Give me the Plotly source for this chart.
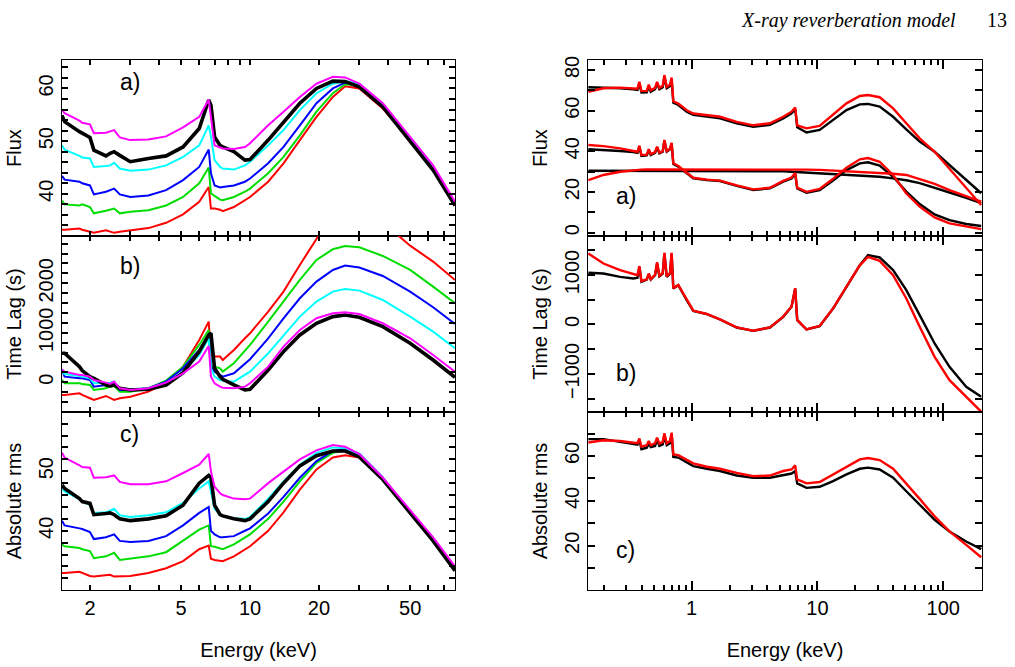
import math
import plotly.graph_objects as go

# ---------------- Left column (energy grid, keV) ----------------
E_LEFT = [1.51, 1.55, 1.8, 1.85, 2.0, 2.08, 2.35, 2.45, 2.55, 2.7, 3.0, 3.6, 4.3, 5.1, 6.0, 6.6,
          6.75, 7.0, 7.4, 7.6, 8.5, 9.5, 10, 12, 14, 16.5, 19.5, 23, 26, 30, 38, 50, 63, 78.5]

# a) Flux
flux_red = [33.2, 33.2, 33.4, 33.2, 32.8, 32.6, 33.1, 32.9, 32.6, 32.8, 33.1, 33.5, 34.5, 36.1, 38.5, 41.3,
            37.2, 37.2, 37.0, 36.7, 37.5, 38.8, 39.4, 42.3, 45.8, 50.2, 54.6, 58.4, 60.4, 60.0, 56.2, 50.2, 44.8, 37.8]
flux_green = [38.7, 38.0, 37.8, 38.0, 37.5, 36.3, 36.8, 37.0, 37.2, 36.3, 36.6, 36.9, 37.8, 39.4, 42.0, 45.0,
              40.1, 39.6, 38.9, 38.8, 39.4, 40.4, 41.0, 43.9, 47.0, 51.1, 55.6, 59.1, 60.8, 60.6, 56.8, 50.3, 44.8, 38.0]
flux_blue = [43.4, 42.7, 42.3, 42.0, 41.6, 39.9, 40.4, 40.7, 41.0, 39.9, 39.4, 39.7, 40.7, 42.6, 45.1, 48.4,
             43.9, 41.6, 41.2, 41.3, 41.6, 42.3, 42.9, 45.8, 48.9, 53.0, 57.2, 60.0, 61.1, 60.8, 57.0, 50.3, 44.8, 38.0]
flux_cyan = [49.2, 48.4, 47.2, 46.9, 46.7, 45.1, 45.3, 45.4, 45.9, 44.8, 44.4, 44.6, 45.4, 47.0, 49.2, 53.0,
             50.8, 46.4, 45.1, 44.8, 44.6, 45.4, 46.1, 49.2, 52.1, 55.9, 59.1, 60.9, 61.4, 60.8, 57.0, 50.3, 44.8, 38.2]
flux_magenta = [56.0, 55.3, 53.9, 53.5, 53.2, 51.5, 51.6, 51.8, 52.1, 50.7, 50.2, 50.3, 50.9, 52.6, 54.6, 57.9,
                54.6, 49.2, 48.8, 48.6, 48.5, 48.9, 49.6, 53.0, 55.6, 58.4, 60.9, 62.2, 62.1, 60.9, 57.2, 50.8, 45.4, 38.5]
flux_black = [54.9, 53.7, 51.8, 51.5, 50.7, 48.3, 47.2, 47.7, 48.0, 47.3, 46.1, 46.7, 47.2, 48.9, 52.4, 57.8,
              56.8, 50.8, 49.2, 48.9, 48.0, 46.4, 46.5, 50.2, 53.7, 57.2, 60.0, 61.4, 61.3, 60.3, 56.5, 49.9, 44.5, 37.8]

# b) Time lag (s)
lag_red = [-256, -256, -222, -256, -323, -357, -276, -323, -357, -323, -290, -189, -20, 316, 855, 1226,
           552, 519, 519, 451, 653, 889, 990, 1428, 1832, 2370, 2909, 3414, 3582, 3548, 3230, 2760, 2438, 2067]
lag_green = [47, -20, -20, -34, -54, -155, -121, -88, -74, -189, -189, -121, 34, 316, 754, 1057,
             350, 316, 283, 215, 384, 653, 754, 1226, 1630, 2067, 2471, 2687, 2754, 2727, 2552, 2269, 1933, 1596]
lag_blue = [249, 114, 81, 81, 47, -88, -54, -40, -20, -155, -155, -121, 13, 283, 653, 956,
            316, 215, 148, 114, 182, 384, 465, 889, 1293, 1697, 2034, 2269, 2357, 2317, 2148, 1832, 1515, 1178]
lag_cyan = [215, 168, 128, 114, 81, -20, -20, -7, 13, -121, -141, -121, -20, 215, 552, 889,
            283, 114, 47, 34, 13, 148, 215, 586, 956, 1327, 1630, 1832, 1886, 1852, 1663, 1327, 1024, 687]
lag_magenta = [263, 215, 148, 148, 114, 47, -7, -34, 13, -121, -155, -121, -7, 182, 418, 734,
               114, -20, -88, -108, -121, -88, -20, 316, 721, 1057, 1293, 1394, 1414, 1380, 1192, 889, 552, 215]
lag_black = [586, 586, 316, 236, 114, 81, -54, -74, -54, -121, -155, -141, -54, 195, 620, 956,
             990, 283, 114, 61, -54, -155, -141, 249, 620, 956, 1192, 1327, 1360, 1313, 1125, 788, 451, 101]

# c) Absolute rms
rms_red = [32.9, 32.9, 33.1, 32.9, 32.4, 32.3, 32.6, 32.6, 32.3, 32.3, 32.4, 32.9, 33.7, 34.9, 36.9, 37.5,
           35.3, 35.1, 35.0, 34.9, 35.7, 36.9, 37.4, 40.0, 43.1, 46.9, 50.3, 52.3, 52.7, 52.3, 48.6, 42.9, 38.3, 33.4]
rms_green = [37.7, 37.4, 37.1, 36.9, 36.6, 35.4, 35.7, 36.0, 36.3, 35.1, 35.3, 35.7, 36.4, 38.3, 40.2, 40.9,
             37.4, 37.3, 37.0, 36.9, 37.7, 38.9, 39.4, 42.0, 44.9, 48.3, 51.4, 53.1, 53.5, 52.9, 48.9, 43.0, 38.4, 33.5]
rms_blue = [41.7, 40.9, 40.4, 40.3, 39.8, 38.6, 38.9, 39.1, 39.4, 38.3, 38.1, 38.3, 39.1, 40.9, 43.0, 44.0,
            40.0, 39.4, 38.9, 38.9, 39.1, 40.0, 40.4, 42.9, 45.7, 48.9, 51.7, 53.4, 53.8, 52.9, 48.9, 43.0, 38.4, 33.7]
rms_cyan = [47.1, 46.6, 45.3, 45.0, 44.3, 43.0, 43.1, 43.4, 43.7, 42.6, 42.3, 42.6, 43.1, 44.7, 47.1, 48.3,
            46.6, 43.7, 42.7, 42.5, 42.1, 42.0, 42.3, 45.4, 48.3, 51.1, 53.1, 54.0, 53.9, 52.9, 48.9, 43.0, 38.4, 33.7]
rms_magenta = [53.1, 52.3, 51.0, 50.7, 50.6, 48.9, 49.0, 49.1, 49.3, 48.2, 47.8, 47.8, 48.3, 49.7, 51.1, 52.9,
               50.0, 47.4, 46.3, 46.0, 45.4, 45.3, 45.4, 48.0, 50.0, 52.0, 53.5, 54.4, 54.1, 52.9, 48.9, 43.4, 38.9, 34.0]
rms_black = [47.7, 47.1, 45.4, 44.9, 44.6, 42.7, 42.9, 43.0, 42.7, 42.0, 41.7, 42.0, 42.5, 44.3, 48.0, 49.3,
             48.9, 44.3, 42.7, 42.5, 42.0, 41.7, 42.0, 44.9, 48.0, 50.9, 52.6, 53.4, 53.4, 52.4, 48.6, 42.9, 38.3, 33.3]

# ---------------- Right column (energy grid, keV) ----------------
E_RIGHT = [0.151, 0.199, 0.270, 0.344, 0.371, 0.384, 0.399, 0.440, 0.456, 0.473, 0.512, 0.531, 0.554, 0.589,
           0.607, 0.634, 0.673, 0.693, 0.715, 0.783, 0.913, 1.03, 1.32, 1.68, 2.28, 3.09, 4.19, 5.34, 6.22,
           6.65, 6.90, 8.18, 10.4, 13.3, 17.0, 21.7, 25.2, 31.2, 39.9, 50.8, 64.9, 85.3, 112, 152, 200]

# a) Flux: total, reflected and continuum, for the two models (black, red)
total_black = [71.5, 71.3, 71.0, 70.5, 70.2, 73.4, 68.9, 69.0, 72.1, 69.3, 70.5, 73.4, 70.5, 71.5, 76.7, 71.0,
               72.1, 75.4, 63.9, 62.8, 59.5, 57.9, 57.0, 56.2, 53.8, 52.1, 53.0, 56.2, 58.7, 60.7, 51.8, 49.3,
               50.5, 55.4, 60.3, 63.1, 63.3, 62.0, 57.0, 50.8, 44.8, 39.8, 33.3, 25.6, 19.4]
total_red = [69.3, 71.0, 71.3, 70.8, 70.8, 74.2, 69.6, 69.7, 72.8, 70.0, 71.2, 74.1, 71.2, 72.2, 77.5, 71.7,
             72.8, 76.3, 64.6, 63.5, 60.2, 58.6, 57.7, 57.0, 54.5, 52.8, 53.8, 57.0, 59.5, 61.6, 52.8, 51.3,
             52.5, 57.9, 63.6, 67.2, 67.7, 66.6, 61.1, 53.8, 46.4, 39.8, 31.6, 22.3, 13.6]
refl_black = [41.0, 40.7, 40.2, 39.7, 39.3, 42.3, 37.7, 38.0, 40.7, 38.2, 39.3, 42.0, 39.0, 39.8, 45.2, 39.8,
              41.0, 43.9, 33.8, 32.5, 29.5, 26.7, 25.9, 25.4, 23.0, 21.0, 21.8, 25.1, 26.7, 28.9, 21.8, 19.7,
              21.0, 25.6, 30.8, 34.1, 34.6, 33.0, 27.5, 20.2, 14.1, 9.0, 6.2, 4.3, 3.3]
refl_red = [43.1, 42.6, 41.5, 40.3, 39.8, 42.8, 38.2, 38.4, 41.1, 38.6, 39.6, 42.3, 39.3, 40.1, 45.6, 40.1,
            41.3, 44.2, 34.1, 32.8, 29.8, 27.0, 26.1, 25.6, 23.3, 21.3, 22.1, 25.5, 27.1, 29.4, 22.2, 20.1,
            21.5, 26.5, 32.0, 36.1, 36.7, 34.9, 28.4, 19.3, 12.8, 7.5, 4.6, 3.0, 1.8]
cont_black = [30.5, 30.5, 30.5, 30.5, 30.5, 30.5, 30.5, 30.5, 30.5, 30.5, 30.5, 30.5, 30.5, 30.5, 30.5, 30.5,
              30.5, 30.5, 30.5, 30.5, 30.5, 30.5, 30.5, 30.5, 30.4, 30.4, 30.3, 30.2, 30.0, 29.9, 29.9, 29.7,
              29.3, 29.0, 28.7, 28.3, 28.0, 27.5, 26.7, 25.8, 24.4, 22.2, 19.8, 17.2, 14.5]
cont_red = [25.9, 28.4, 30.0, 30.8, 30.9, 30.9, 31.0, 31.1, 31.1, 31.1, 31.2, 31.2, 31.2, 31.2, 31.2, 31.3,
            31.3, 31.3, 31.3, 31.3, 31.3, 31.3, 31.3, 31.3, 31.3, 31.3, 31.3, 31.2, 31.2, 31.1, 31.1, 31.0,
            30.9, 30.6, 30.3, 30.0, 29.7, 29.3, 29.0, 28.4, 26.5, 24.0, 21.0, 18.0, 15.3]

# b) Time lag (s)
lagR_black = [1044, 1030, 963, 929, 943, 1165, 862, 909, 1017, 909, 997, 1232, 976, 1030, 1434, 963,
              1030, 1434, 727, 795, 492, 276, 209, 101, -61, -128, -61, 155, 357, 727, 88, -101,
              -34, 323, 761, 1199, 1401, 1354, 1098, 694, 189, -384, -855, -1259, -1461]
lagR_red = [1434, 1232, 1098, 1010, 997, 1180, 875, 915, 1030, 915, 1004, 1260, 985, 1040, 1450, 970,
            1040, 1450, 735, 800, 495, 280, 212, 104, -58, -125, -58, 160, 362, 735, 92, -98,
            -30, 325, 765, 1195, 1367, 1286, 997, 525, -47, -653, -1125, -1470, -1762]

# c) Absolute rms
rmsR_black = [67.5, 67.5, 66.3, 65.2, 65.1, 67.2, 63.0, 63.7, 65.7, 64.0, 64.5, 67.2, 64.5, 65.2, 69.0, 64.8,
              65.7, 69.7, 59.6, 59.3, 57.0, 55.5, 54.3, 53.3, 51.3, 50.3, 50.3, 51.3, 52.2, 53.3, 47.8, 45.8,
              46.3, 48.8, 51.8, 54.3, 54.8, 54.0, 50.3, 44.3, 38.4, 31.6, 26.4, 21.9, 18.5]
rmsR_red = [66.0, 67.0, 66.7, 66.0, 65.7, 67.8, 64.2, 64.8, 66.7, 64.8, 65.7, 68.2, 65.5, 66.3, 70.1, 65.7,
            66.7, 70.4, 60.7, 60.4, 58.2, 56.7, 55.2, 54.3, 52.5, 51.0, 51.3, 53.3, 54.0, 55.8, 49.6, 47.8,
            48.4, 51.8, 55.5, 58.5, 59.1, 58.2, 54.3, 47.8, 40.9, 33.1, 26.4, 20.4, 14.9]

# ---------------- Tick spacing (labelled step, minor step) ----------------
XDTICK_LEFT, XMINOR_LEFT = "D2", "D1"      # labels 2, 5, 10, 20, 50; ticks at every digit
XDTICK_RIGHT, XMINOR_RIGHT = 1, "D1"       # labels 1, 10, 100; ticks at every digit
Y_STEPS = {"la": (10, 2), "lb": (1000, 200), "lc": (10, 2), "ra": (20, 10), "rb": (1000, 500), "rc": (20, 10)}

# ---------------- Figure ----------------
W, H = 1015, 667
XL = [62 / W, 455 / W]
XR = [588 / W, 982 / W]
YA = [1 - 236 / H, 1 - 60 / H]
YB = [1 - 412 / H, 1 - 236 / H]
YC = [1 - 590 / H, 1 - 412 / H]
RANGE_L = [math.log10(1.51), math.log10(78.5)]
RANGE_R = [math.log10(0.15), math.log10(203)]

FONT = "Liberation Sans, Arial, Helvetica, sans-serif"
fig = go.Figure()

def add(x, y, color, axis, width=2.2):
    fig.add_trace(go.Scatter(x=x, y=y, mode="lines", line=dict(color=color, width=width),
                             xaxis="x" + axis, yaxis="y" + axis, showlegend=False))

LC = {"red": "#ff0000", "green": "#00dd00", "blue": "#0000ff", "cyan": "#00ffff",
      "magenta": "#ff00ff", "black": "#000000"}

left_sets = [
    ("", [flux_red, flux_green, flux_blue, flux_cyan, flux_magenta, flux_black]),
    ("2", [lag_red, lag_green, lag_blue, lag_cyan, lag_magenta, lag_black]),
    ("3", [rms_red, rms_green, rms_blue, rms_cyan, rms_magenta, rms_black]),
]
names = ["red", "green", "blue", "cyan", "magenta", "black"]
for ax, series in left_sets:
    for i in [0, 1, 2, 3, 5, 4]:
        add(E_LEFT, series[i], LC[names[i]], ax, width=3.6 if names[i] == "black" else 2.0)

for s, c in [(total_black, "black"), (refl_black, "black"), (cont_black, "black"),
             (total_red, "red"), (refl_red, "red"), (cont_red, "red")]:
    add(E_RIGHT, s, LC[c], "4", width=2.4)
add(E_RIGHT, lagR_black, LC["black"], "5", width=2.4)
add(E_RIGHT, lagR_red, LC["red"], "5", width=2.4)
add(E_RIGHT, rmsR_black, LC["black"], "6", width=2.4)
add(E_RIGHT, rmsR_red, LC["red"], "6", width=2.4)

common = dict(showline=True, linecolor="black", linewidth=1.3, ticks="inside", mirror="allticks",
              tickcolor="#000000", tickwidth=1.5, showgrid=False, zeroline=False,
              tickfont=dict(family=FONT, size=20, color="black"))

def minor(dt, ln):
    return dict(dtick=dt, ticks="inside", ticklen=ln, tickcolor="#000000", tickwidth=1.5, showgrid=False)

def xaxis(domain, anchor, left, labels):
    if left:
        d = dict(common, type="log", domain=domain, anchor=anchor, range=RANGE_L, dtick=XDTICK_LEFT,
                 tickformat="~g", ticklen=5, minor=minor(XMINOR_LEFT, 5))
    else:
        d = dict(common, type="log", domain=domain, anchor=anchor, range=RANGE_R, dtick=XDTICK_RIGHT,
                 ticklen=9, minor=minor(XMINOR_RIGHT, 5))
    d.update(showticklabels=labels)
    if labels:
        d["title"] = dict(text="Energy (keV)", font=dict(family=FONT, size=20, color="black"), standoff=24)
    return d

def xlong(base, anchor):
    # longer tick at the power of ten on the left column
    return dict(common, type="log", overlaying=base, anchor=anchor, domain=XL, mirror="ticks",
                range=RANGE_L, dtick=1, ticklen=9, showticklabels=False)

def yaxis(domain, anchor, rng, key, title, tstand, ticklen=6):
    step, mstep = Y_STEPS[key]
    return dict(common, domain=domain, anchor=anchor, range=rng, tickmode="linear", tick0=0, dtick=step,
                ticklen=ticklen, minor=minor(mstep, ticklen), tickangle=-90,
                title=dict(text=title, font=dict(family=FONT, size=20, color="black"), standoff=tstand))

fig.update_layout(
    template="none",
    width=W, height=H, margin=dict(l=0, r=0, t=0, b=0),
    paper_bgcolor="white", plot_bgcolor="white", showlegend=False,
    xaxis=xaxis(XL, "y", True, False),
    xaxis2=xaxis(XL, "y2", True, False),
    xaxis3=xaxis(XL, "y3", True, True),
    xaxis4=xaxis(XR, "y4", False, False),
    xaxis5=xaxis(XR, "y5", False, False),
    xaxis6=xaxis(XR, "y6", False, True),
    xaxis7=xlong("x", "y"),
    xaxis8=xlong("x2", "y2"),
    xaxis9=xlong("x3", "y3"),
    yaxis=yaxis(YA, "x", [32.0, 65.4], "la", "Flux", 7),
    yaxis2=yaxis(YB, "x2", [-600, 2955], "lb", "Time Lag (s)", 7),
    yaxis3=yaxis(YC, "x3", [30.05, 59.95], "lc", "Absolute rms", 7),
    yaxis4=yaxis(YA, "x4", [-1.6, 84.9], "ra", "Flux", 7, 7),
    yaxis5=yaxis(YB, "x5", [-1768, 1788], "rb", "Time Lag (s)", 7, 7),
    yaxis6=yaxis(YC, "x6", [0.3, 79.6], "rc", "Absolute rms", 7, 7),
)

labels = [("a)", "x", "y", 0.173, 0.875), ("b)", "x2", "y2", 0.173, 0.83), ("c)", "x3", "y3", 0.173, 0.875),
          ("a)", "x4", "y4", 0.0964, 0.225), ("b)", "x5", "y5", 0.0964, 0.22), ("c)", "x6", "y6", 0.0964, 0.222)]
for t, xr, yr, xx, yy in labels:
    fig.add_annotation(text=t, xref=xr + " domain", yref=yr + " domain", x=xx, y=yy, showarrow=False,
                       xanchor="center", yanchor="middle", font=dict(family=FONT, size=23, color="black"))

fig.add_annotation(text="<i>X-ray reverberation model</i>", xref="paper", yref="paper", x=958 / W,
                   y=1 - 20 / H, xanchor="right", yanchor="middle", showarrow=False,
                   font=dict(family="Liberation Serif, Times New Roman, serif", size=20, color="black"))
fig.add_annotation(text="13", xref="paper", yref="paper", x=1009 / W, y=1 - 20 / H, xanchor="right",
                   yanchor="middle", showarrow=False,
                   font=dict(family="Liberation Serif, Times New Roman, serif", size=20, color="black"))

fig.write_html("out.html")
